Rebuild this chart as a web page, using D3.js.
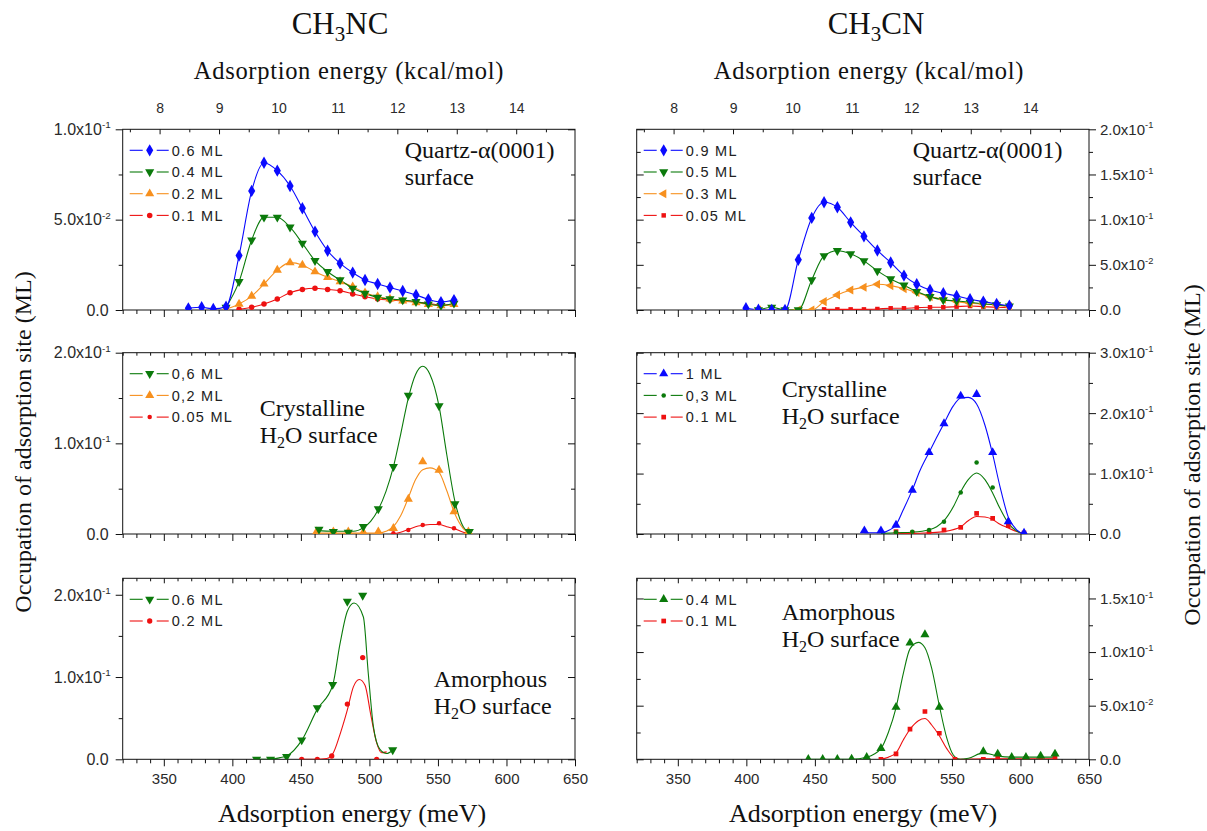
<!DOCTYPE html>
<html><head><meta charset="utf-8">
<script src="https://cdn.jsdelivr.net/npm/d3@7"></script>
<style>body{margin:0;background:#fff}</style>
</head><body><svg id="c" width="1207" height="831"></svg>
<script>
// ---------------- DATA ----------------
const MEV_PER_KCAL = 43.364;
const xDomain = [320, 650];
const meVTicks = [350, 400, 450, 500, 550, 600, 650];
const kcalTicks = [8, 9, 10, 11, 12, 13, 14];

// y tick labels per panel
const yTicksTL = [0, 0.05, 0.1],  yMinorTL = [0.025, 0.075];
const yTicksML = [0, 0.1, 0.2],   yMinorML = [0.05, 0.15];
const yTicksBL = [0, 0.1, 0.2],   yMinorBL = [0.05, 0.15];
const yTicksTR = [0, 0.05, 0.1, 0.15, 0.2], yMinorTR = [0.025, 0.075, 0.125, 0.175];
const yTicksMR = [0, 0.1, 0.2, 0.3], yMinorMR = [0.05, 0.15, 0.25];
const yTicksBR = [0, 0.05, 0.1, 0.15], yMinorBR = [0.025, 0.075, 0.125];

// ---- CH3NC, Quartz-alpha(0001) ----
const ncQ_06_E = [367.9,377.6,386.1,395.4,404.9,414.1,423.1,432.8,442.1,451.1,460.3,469.5,478.6,487.8,496.8,506.0,515.0,524.3,534.0,543.0,552.2,561.7];
const ncQ_06_V = [0.0009,0.0015,0.0006,0.0018,0.0301,0.0659,0.0815,0.0771,0.0686,0.0563,0.0434,0.0328,0.0258,0.0207,0.0166,0.0144,0.0124,0.0105,0.0083,0.0059,0.0044,0.0055];
const ncQ_04_E = [395.4,404.9,414.1,423.1,432.8,442.1,451.1,460.3,469.5,478.6,487.8,496.8,506.0,515.0,524.3,534.0,543.0,552.2,561.7];
const ncQ_04_V = [0.0015,0.0157,0.0387,0.0513,0.0513,0.0458,0.0369,0.0273,0.0212,0.0166,0.0120,0.0092,0.0070,0.0061,0.0055,0.0046,0.0033,0.0024,0.0037];
const ncQ_02_E = [395.4,404.9,414.1,423.1,432.8,442.1,451.1,460.3,469.5,478.6,487.8,496.8,506.0,515.0,524.3,534.0,543.0,552.2,561.7];
const ncQ_02_V = [0.0004,0.0033,0.0077,0.0144,0.0221,0.0262,0.0249,0.0212,0.0181,0.0157,0.0129,0.0096,0.0074,0.0061,0.0050,0.0041,0.0031,0.0024,0.0031];
const ncQ_01_E = [404.9,414.1,423.1,432.8,442.1,451.1,460.3,469.5,478.6,487.8,496.8,506.0,515.0,524.3,534.0,543.0,552.2,561.7];
const ncQ_01_V = [0.0004,0.0015,0.0033,0.0061,0.0096,0.0114,0.0120,0.0114,0.0107,0.0089,0.0074,0.0061,0.0055,0.0050,0.0046,0.0037,0.0028,0.0031];

// ---- CH3CN, Quartz-alpha(0001) ----
const cnQ_09_E = [399.7,408.8,418.5,428.2,437.9,447.7,456.7,466.4,476.1,485.8,495.6,505.3,515.0,524.3,534.0,543.7,553.4,563.2,572.9,582.6,591.9];
const cnQ_09_V = [0.0019,0.0004,0.0,0.0,0.0556,0.1019,0.1193,0.1137,0.0970,0.0815,0.0659,0.0526,0.0381,0.0285,0.0222,0.0185,0.0156,0.0119,0.0093,0.0067,0.0048];
const cnQ_05_E = [408.8,418.5,428.2,437.9,447.7,456.7,466.4,476.1,485.8,495.6,505.3,515.0,524.3,534.0,543.7,553.4,563.2,572.9,582.6,591.9];
const cnQ_05_V = [0.0,0.0030,0.0,0.0,0.0333,0.0600,0.0656,0.0622,0.0544,0.0433,0.0344,0.0274,0.0204,0.0148,0.0111,0.0100,0.0085,0.0067,0.0056,0.0044];
const cnQ_03_E = [408.8,437.9,447.7,456.7,466.4,476.1,485.8,495.6,505.3,515.0,524.3,534.0,543.7,553.4,563.2,572.9,582.6,591.9];
const cnQ_03_V = [0.0,0.0,0.0,0.0093,0.0167,0.0222,0.0252,0.0285,0.0270,0.0237,0.0193,0.0148,0.0119,0.0093,0.0074,0.0067,0.0056,0.0037];
const cnQ_005_E = [456.7,466.4,476.1,485.8,495.6,505.3,515.0,524.3,534.0,543.7,553.4,563.2,572.9,582.6,591.9];
const cnQ_005_V = [0.0007,0.0007,0.0007,0.0007,0.0011,0.0019,0.0019,0.0026,0.0030,0.0030,0.0037,0.0044,0.0037,0.0030,0.0026];

// ---- CH3NC, crystalline H2O ----
const ncC_06_E = [463.2,473.7,484.6,495.6,506.5,517.5,528.4,550.8,562.4,572.9];
const ncC_06_V = [0.0051,0.0026,0.0018,0.0081,0.0276,0.0743,0.1529,0.1412,0.0331,0.0026];
const ncC_06_fitE = [461.5,473.7,488.3,495.6,500.9,506.5,512.1,517.5,522.8,528.4,533.7,538.9,544.2,550.8,556.4,562.4,568.5,574.6];
const ncC_06_fitV = [0.004,0.003,0.003,0.007,0.014,0.027,0.047,0.074,0.110,0.150,0.176,0.185,0.176,0.141,0.088,0.036,0.008,0.0];
const ncC_02_E = [461.5,473.7,484.6,495.6,506.5,517.5,528.4,538.9,550.8,561.7,572.2];
const ncC_02_V = [0.0026,0.0026,0.0026,0.0018,0.0026,0.0063,0.0386,0.0798,0.0706,0.0246,0.0026];
const ncC_02_fitE = [461.5,495.6,506.5,512.1,517.5,522.8,528.4,533.7,538.9,544.2,550.8,556.4,562.4,568.5,574.6];
const ncC_02_fitV = [0.001,0.001,0.001,0.003,0.008,0.020,0.040,0.060,0.071,0.073,0.068,0.048,0.022,0.006,0.0];
const ncC_005_E = [517.5,528.4,538.9,550.8,561.7,572.2];
const ncC_005_V = [0.0007,0.0044,0.0099,0.0118,0.0063,0.0026];
const ncC_005_fitE = [515.4,522.8,528.4,533.7,538.9,544.2,550.8,556.4,561.7,568.5,574.6];
const ncC_005_fitV = [0.0,0.002,0.005,0.008,0.0095,0.0105,0.0105,0.008,0.006,0.002,0.0];

// ---- CH3CN, crystalline H2O ----
const cnC_1_E = [486.1,498.2,509.2,521.1,533.3,544.2,556.4,568.0,579.7,591.1,602.6];
const cnC_1_V = [0.0055,0.0055,0.0149,0.0727,0.1349,0.1827,0.2284,0.2312,0.1349,0.0204,0.0017];
const cnC_1_fitE = [486.1,498.2,504.8,509.2,514.5,521.1,526.7,533.3,538.9,544.2,551.0,556.4,561.9,568.0,574.1,579.7,585.1,591.1,597.2,602.6];
const cnC_1_fitV = [0.002,0.002,0.007,0.015,0.040,0.073,0.105,0.135,0.160,0.183,0.212,0.225,0.226,0.215,0.180,0.132,0.078,0.028,0.007,0.0];
const cnC_03_E = [509.2,521.1,533.3,544.2,556.4,568.0,579.7,591.1,602.6];
const cnC_03_V = [0.0028,0.0039,0.0066,0.0204,0.0688,0.1183,0.0771,0.0204,0.0017];
const cnC_03_fitE = [498.2,509.2,521.1,533.3,538.9,544.2,551.0,556.4,561.9,568.0,574.1,579.7,585.1,591.1,597.2,602.6];
const cnC_03_fitV = [0.001,0.002,0.003,0.007,0.012,0.022,0.045,0.070,0.090,0.101,0.090,0.068,0.042,0.018,0.005,0.0];
const cnC_01_E = [509.2,521.1,533.3,544.2,556.4,568.0,579.7,591.1,602.6];
const cnC_01_V = [0.0039,0.0017,0.0017,0.0066,0.0110,0.0341,0.0259,0.0138,0.0017];
const cnC_01_fitE = [509.2,521.1,533.3,544.2,556.4,561.9,568.0,574.1,579.7,585.1,591.1,597.2,602.6];
const cnC_01_fitV = [0.001,0.001,0.002,0.004,0.012,0.022,0.029,0.028,0.024,0.016,0.010,0.004,0.0];

// ---- CH3NC, amorphous H2O ----
const ncA_06_E = [417.7,427.9,439.6,450.6,462.0,473.2,483.9,495.1,517.0];
const ncA_06_V = [0.0,0.0,0.0032,0.0234,0.0626,0.0909,0.1919,0.1992,0.0113];
const ncA_06_fitE = [417.7,427.9,434.8,439.6,450.6,462.0,473.2,478.5,483.9,488.8,495.6,499.2,502.9,507.7,512.6,517.0];
const ncA_06_fitV = [0.0,0.0,0.002,0.004,0.023,0.061,0.090,0.140,0.180,0.190,0.173,0.104,0.040,0.012,0.007,0.011];
const ncA_02_E = [450.6,462.0,472.5,483.9,495.1,505.3];
const ncA_02_V = [0.0,0.0,0.004,0.0671,0.1236,0.0];
const ncA_02_fitE = [450.6,462.0,468.8,473.7,478.5,483.9,488.3,492.6,496.8,500.9,505.3,508.9,512.6];
const ncA_02_fitV = [0.0,0.0,0.001,0.008,0.030,0.060,0.088,0.097,0.090,0.055,0.020,0.008,0.009];

// ---- CH3CN, amorphous H2O ----
const cnA_04_E = [445.2,455.7,466.4,476.8,487.8,498.2,509.2,519.4,530.3,540.8,572.9,583.4,593.6,604.0,614.7,625.2];
const cnA_04_V = [0.0,0.0,0.0,0.0003,0.0019,0.0103,0.0486,0.1085,0.1163,0.0486,0.0072,0.0050,0.0019,0.0019,0.0031,0.0050];
const cnA_04_fitE = [445.2,476.8,487.8,498.2,503.6,509.2,514.5,519.4,525.5,530.3,535.2,540.8,546.2,551.0,555.9,562.0,572.9,583.4,593.6,625.2];
const cnA_04_fitV = [0.0,0.0,0.002,0.010,0.025,0.048,0.080,0.103,0.109,0.104,0.085,0.050,0.020,0.004,0.0,0.001,0.006,0.003,0.002,0.002];
const cnA_01_E = [498.2,509.2,519.4,530.3,540.8,552.2,572.9,583.4,593.6,604.0,614.7,625.2];
const cnA_01_V = [0.0,0.0050,0.0281,0.0446,0.0243,0.0,0.0,0.001,0.001,0.001,0.001,0.001];
const cnA_01_fitE = [497.5,503.6,509.2,514.5,519.4,525.5,530.3,535.2,540.8,546.2,552.2,555.9,572.9,625.2];
const cnA_01_fitV = [0.0,0.002,0.006,0.018,0.028,0.036,0.038,0.032,0.022,0.010,0.001,0.0,0.0005,0.0005];

// ---------------- LAYOUT / STYLE ----------------
const BLUE = "#0a0aff", GREEN = "#0b7a0b", ORANGE = "#f7901e", RED = "#ee1111";
const COLS = [{x0: 122.7, x1: 575}, {x0: 636.7, x1: 1089}];
const ROWS = [{y0: 129.3, y1: 310}, {y0: 352.7, y1: 534}, {y0: 578.3, y1: 759.3}];
const SANS = "'Liberation Sans', Arial, sans-serif";
const SERIF = "'Liberation Serif', 'Times New Roman', serif";
const TICK_FILL = "#2a2a2a";

function S(label, color, shape, E, V, fitE, fitV, size) {
  return {label, color, shape, E, V, fitE: fitE || E, fitV: fitV || V, size: size || 36};
}

const panels = [
  {col: 0, row: 0, ymax: 0.1, yt: yTicksTL, ym: yMinorTL,
   note: [["Quartz-α(0001)"], ["surface"]], nx: 282, ny: 29,
   series: [S("0.6 ML", BLUE, "diamond", ncQ_06_E, ncQ_06_V, null, null, 44),
            S("0.4 ML", GREEN, "down", ncQ_04_E, ncQ_04_V),
            S("0.2 ML", ORANGE, "up", ncQ_02_E, ncQ_02_V),
            S("0.1 ML", RED, "circle", ncQ_01_E, ncQ_01_V, null, null, 24)]},
  {col: 1, row: 0, ymax: 0.2, yt: yTicksTR, ym: yMinorTR,
   note: [["Quartz-α(0001)"], ["surface"]], nx: 276, ny: 29,
   series: [S("0.9 ML", BLUE, "diamond", cnQ_09_E, cnQ_09_V, null, null, 44),
            S("0.5 ML", GREEN, "down", cnQ_05_E, cnQ_05_V),
            S("0.3 ML", ORANGE, "left", cnQ_03_E, cnQ_03_V),
            S("0.05 ML", RED, "square", cnQ_005_E, cnQ_005_V, null, null, 20)]},
  {col: 0, row: 1, ymax: 0.2, yt: yTicksML, ym: yMinorML,
   note: [["Crystalline"], ["H", "2", "O surface"]], nx: 137, ny: 63,
   series: [S("0,6 ML", GREEN, "down", ncC_06_E, ncC_06_V, ncC_06_fitE, ncC_06_fitV),
            S("0,2 ML", ORANGE, "up", ncC_02_E, ncC_02_V, ncC_02_fitE, ncC_02_fitV),
            S("0.05 ML", RED, "circle", ncC_005_E, ncC_005_V, ncC_005_fitE, ncC_005_fitV, 16)]},
  {col: 1, row: 1, ymax: 0.3, yt: yTicksMR, ym: yMinorMR,
   note: [["Crystalline"], ["H", "2", "O surface"]], nx: 145, ny: 44,
   series: [S("1 ML", BLUE, "up", cnC_1_E, cnC_1_V, cnC_1_fitE, cnC_1_fitV),
            S("0,3 ML", GREEN, "circle", cnC_03_E, cnC_03_V, cnC_03_fitE, cnC_03_fitV, 16),
            S("0.1 ML", RED, "square", cnC_01_E, cnC_01_V, cnC_01_fitE, cnC_01_fitV, 22)]},
  {col: 0, row: 2, ymax: 0.22, yt: yTicksBL, ym: yMinorBL,
   note: [["Amorphous"], ["H", "2", "O surface"]], nx: 311, ny: 109,
   series: [S("0.6 ML", GREEN, "down", ncA_06_E, ncA_06_V, ncA_06_fitE, ncA_06_fitV),
            S("0.2 ML", RED, "circle", ncA_02_E, ncA_02_V, ncA_02_fitE, ncA_02_fitV, 22)]},
  {col: 1, row: 2, ymax: 0.1688, yt: yTicksBR, ym: yMinorBR,
   note: [["Amorphous"], ["H", "2", "O surface"]], nx: 145, ny: 42,
   series: [S("0.4 ML", GREEN, "up", cnA_04_E, cnA_04_V, cnA_04_fitE, cnA_04_fitV),
            S("0.1 ML", RED, "square", cnA_01_E, cnA_01_V, cnA_01_fitE, cnA_01_fitV, 22)]}
];

// ---------------- DRAW ----------------
const svg = d3.select("#c");
svg.append("rect").attr("width", 1207).attr("height", 831).attr("fill", "#fff");

function symPath(shape, size) {
  const t = {diamond: d3.symbolDiamond, circle: d3.symbolCircle, square: d3.symbolSquare}[shape] || d3.symbolTriangle;
  return d3.symbol(t, size)();
}
function symRot(shape) { return shape === "down" ? 180 : shape === "left" ? -90 : 0; }

function sciLabel(text, v, fs) {
  if (v === 0) { text.text("0.0"); return; }
  const e = Math.floor(Math.log10(v) + 1e-9);
  const m = v / Math.pow(10, e);
  text.append("tspan").text(m.toFixed(1) + "x10");
  text.append("tspan").attr("font-size", fs * 0.62).attr("dy", -fs * 0.42).text(String(e));
}

function styleAxis(g) {
  g.select(".domain").remove();
  g.selectAll(".tick line").attr("stroke", "#111").attr("stroke-width", 1);
  g.selectAll(".tick text").attr("font-family", SANS).attr("fill", TICK_FILL);
}

panels.forEach(p => {
  const {x0, x1} = COLS[p.col];
  const {y0, y1} = ROWS[p.row];
  const x = d3.scaleLinear().domain(xDomain).range([x0, x1]);
  const y = d3.scaleLinear().domain([0, p.ymax]).range([y1, y0]);
  const g = svg.append("g");

  const cid = "clip" + p.col + p.row;
  svg.append("clipPath").attr("id", cid).append("rect")
    .attr("x", x0).attr("y", y0 - 4).attr("width", x1 - x0).attr("height", y1 - y0 + 4);

  // bottom axis (meV)
  const minorMeV = d3.range(320, 651, 10).filter(d => d % 50 !== 0);
  g.append("g").attr("transform", `translate(0,${y1})`)
    .call(d3.axisBottom(x).tickValues(minorMeV).tickSize(4).tickSizeOuter(0).tickFormat(""))
    .call(styleAxis);
  const bax = g.append("g").attr("transform", `translate(0,${y1})`)
    .call(d3.axisBottom(x).tickValues(meVTicks).tickSize(7).tickSizeOuter(0)
      .tickFormat(p.row === 2 ? d3.format("d") : ""))
    .call(styleAxis);
  bax.selectAll(".tick text").attr("y", 14).attr("dy", "0.71em").attr("font-size", 15);

  // top border ticks (inward)
  if (p.row === 0) {
    const xk = d3.scaleLinear().domain(xDomain.map(d => d / MEV_PER_KCAL)).range([x0, x1]);
    const minorK = [7.5, 8.5, 9.5, 10.5, 11.5, 12.5, 13.5, 14.5];
    g.append("g").attr("transform", `translate(0,${y0})`)
      .call(d3.axisTop(xk).tickValues(minorK).tickSize(-3).tickSizeOuter(0).tickFormat(""))
      .call(styleAxis);
    const tax = g.append("g").attr("transform", `translate(0,${y0})`)
      .call(d3.axisTop(xk).tickValues(kcalTicks).tickSize(-5).tickSizeOuter(0).tickFormat(d3.format("d")))
      .call(styleAxis);
    tax.selectAll(".tick text").attr("y", -16).attr("dy", 0).attr("font-size", 14);
  } else {
    g.append("g").attr("transform", `translate(0,${y0})`)
      .call(d3.axisTop(x).tickValues(minorMeV).tickSize(-3).tickSizeOuter(0).tickFormat(""))
      .call(styleAxis);
    g.append("g").attr("transform", `translate(0,${y0})`)
      .call(d3.axisTop(x).tickValues(meVTicks).tickSize(-5).tickSizeOuter(0).tickFormat(""))
      .call(styleAxis);
  }

  // y axes
  const outerX = p.col === 0 ? x0 : x1;
  const innerX = p.col === 0 ? x1 : x0;
  const outAxis = p.col === 0 ? d3.axisLeft : d3.axisRight;
  const inAxis = p.col === 0 ? d3.axisRight : d3.axisLeft;
  g.append("g").attr("transform", `translate(${outerX},0)`)
    .call(outAxis(y).tickValues(p.yt).tickSize(7).tickSizeOuter(0).tickFormat("")).call(styleAxis);
  g.append("g").attr("transform", `translate(${outerX},0)`)
    .call(outAxis(y).tickValues(p.ym).tickSize(4).tickSizeOuter(0).tickFormat("")).call(styleAxis);
  g.append("g").attr("transform", `translate(${innerX},0)`)
    .call(inAxis(y).tickValues(p.yt).tickSize(-7).tickSizeOuter(0).tickFormat("")).call(styleAxis);
  g.append("g").attr("transform", `translate(${innerX},0)`)
    .call(inAxis(y).tickValues(p.ym).tickSize(-4).tickSizeOuter(0).tickFormat("")).call(styleAxis);

  const yfs = p.col === 0 ? 16 : 15;
  p.yt.forEach(v => {
    const t = g.append("text")
      .attr("x", p.col === 0 ? (v === 0 ? x0 - 14 : x0 - 12) : x1 + 11)
      .attr("y", y(v)).attr("dy", "0.36em")
      .attr("text-anchor", p.col === 0 ? "end" : "start")
      .attr("font-family", SANS).attr("font-size", yfs).attr("fill", TICK_FILL);
    sciLabel(t, v, yfs);
  });

  // frame
  g.append("rect").attr("x", x0).attr("y", y0).attr("width", x1 - x0).attr("height", y1 - y0)
    .attr("fill", "none").attr("stroke", "#111").attr("stroke-width", 1);

  // curves and markers
  const line = d3.line().x(d => x(d[0])).y(d => y(d[1])).curve(d3.curveMonotoneX);
  const plot = g.append("g").attr("clip-path", `url(#${cid})`);
  p.series.slice().reverse().forEach(s => {
    const fit = s.fitE.map((e, i) => [e, s.fitV[i]]);
    plot.append("path").attr("d", line(fit)).attr("fill", "none")
      .attr("stroke", s.color).attr("stroke-width", 1.1);
  });
  p.series.slice().reverse().forEach(s => {
    const pts = s.E.map((e, i) => [e, s.V[i]]);
    plot.selectAll(null).data(pts).enter().append("path")
      .attr("d", symPath(s.shape, s.size))
      .attr("transform", d => `translate(${x(d[0])},${y(d[1])}) rotate(${symRot(s.shape)})`)
      .attr("fill", s.color);
  });

  // legend
  p.series.forEach((s, i) => {
    const ly = y0 + 21 + i * 21.7;
    g.append("line").attr("x1", x0 + 7).attr("x2", x0 + 20).attr("y1", ly).attr("y2", ly)
      .attr("stroke", s.color).attr("stroke-width", 1.1);
    g.append("line").attr("x1", x0 + 34).attr("x2", x0 + 46).attr("y1", ly).attr("y2", ly)
      .attr("stroke", s.color).attr("stroke-width", 1.1);
    g.append("path").attr("d", symPath(s.shape, s.size))
      .attr("transform", `translate(${x0 + 27},${ly}) rotate(${symRot(s.shape)})`).attr("fill", s.color);
    g.append("text").attr("x", x0 + 49).attr("y", ly).attr("dy", "0.36em")
      .attr("font-family", SANS).attr("font-size", 14.5).attr("letter-spacing", 1.3)
      .attr("fill", "#222").text(s.label);
  });

  // note
  p.note.forEach((parts, i) => {
    const t = g.append("text").attr("x", x0 + p.nx).attr("y", y0 + p.ny + i * 27)
      .attr("font-family", SERIF).attr("font-size", 24).attr("fill", "#111");
    if (parts.length === 1) t.text(parts[0]);
    else {
      t.append("tspan").text(parts[0]);
      t.append("tspan").attr("font-size", 16).attr("dy", 5).text(parts[1]);
      t.append("tspan").attr("dy", -5).text(parts[2]);
    }
  });
});

// titles
function chem(xc, yb, a, sub, b) {
  const t = svg.append("text").attr("x", xc).attr("y", yb).attr("text-anchor", "middle")
    .attr("font-family", SERIF).attr("font-size", 31).attr("fill", "#111");
  t.append("tspan").text(a);
  t.append("tspan").attr("font-size", 21).attr("dy", 7).text(sub);
  t.append("tspan").attr("dy", -7).text(b);
}
chem(340, 34, "CH", "3", "NC");
chem(876, 34, "CH", "3", "CN");

[[349, 79], [869, 79]].forEach(([xc, yb]) => {
  svg.append("text").attr("x", xc).attr("y", yb).attr("text-anchor", "middle")
    .attr("font-family", SERIF).attr("font-size", 24.5).attr("letter-spacing", 0.7).attr("fill", "#111")
    .text("Adsorption energy (kcal/mol)");
});
[[352, 822], [863, 822]].forEach(([xc, yb]) => {
  svg.append("text").attr("x", xc).attr("y", yb).attr("text-anchor", "middle")
    .attr("font-family", SERIF).attr("font-size", 26).attr("fill", "#111")
    .text("Adsorption energy (meV)");
});
[[31, 442], [1200, 455]].forEach(([xb, yc]) => {
  svg.append("text").attr("transform", `translate(${xb},${yc}) rotate(-90)`)
    .attr("text-anchor", "middle")
    .attr("font-family", SERIF).attr("font-size", 24).attr("fill", "#111")
    .text("Occupation of adsorption site (ML)");
});
</script></body></html>
